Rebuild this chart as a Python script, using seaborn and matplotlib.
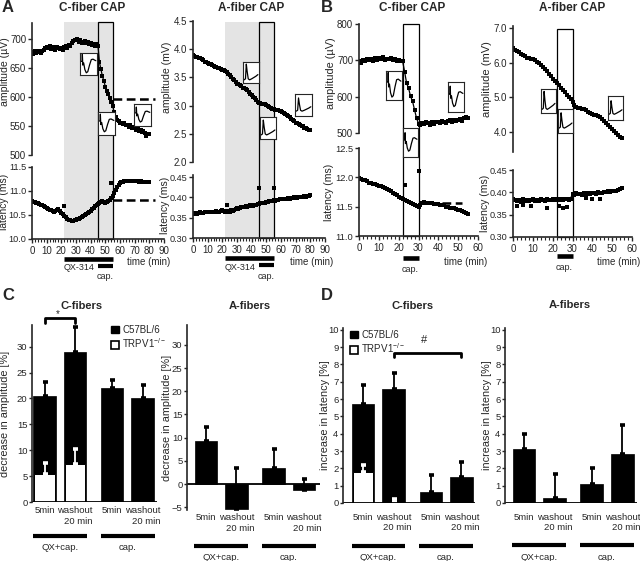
import numpy as np
import matplotlib
matplotlib.use("Agg")
import matplotlib.pyplot as plt
import matplotlib.transforms as mtransforms
from matplotlib import font_manager
from matplotlib.patches import Rectangle, Patch
from matplotlib.ticker import MultipleLocator, FormatStrFormatter
import seaborn as sns

# --- DATA: time courses (one value per minute) ---
T_A = np.arange(81)
T_B = np.arange(56)

A_C_AMP = [678, 675, 680, 677, 679, 678, 676, 680, 682, 684,
           687, 684, 688, 683, 686, 685, 682, 686, 684, 683,
           684, 681, 686, 688, 685, 690, 689, 694, 697, 699,
           698, 700, 696, 698, 694, 695, 697, 693, 695, 692,
           694, 690, 692, 689, 691, 688, 660, 648, 636, 628,
           618, 611, 606, 598, 592, 585, 574, 566, 561, 558,
           556, 555, 553, 556, 551, 552, 549, 551, 547, 548,
           546, 544, 546, 542, 543, 540, 541, 538, 533, 536, 537]
A_C_LAT = [10.80, 10.78, 10.77, 10.75, 10.74, 10.73, 10.71, 10.70, 10.68, 10.66,
           10.65, 10.63, 10.61, 10.60, 10.58, 10.57, 10.58, 10.60, 10.62, 10.59,
           10.55, 10.52, 10.48, 10.45, 10.42, 10.40, 10.39, 10.38, 10.38, 10.39,
           10.40, 10.41, 10.42, 10.44, 10.46, 10.48, 10.50, 10.52, 10.55, 10.57,
           10.59, 10.62, 10.65, 10.68, 10.71, 10.73, 10.75, 10.77, 10.79, 10.77,
           10.76, 10.77, 10.79, 10.82, 10.85, 10.90, 10.96, 11.03, 11.09, 11.13,
           11.16, 11.18, 11.19, 11.20, 11.20, 11.21, 11.20, 11.21, 11.20, 11.21,
           11.20, 11.21, 11.20, 11.19, 11.20, 11.19, 11.18, 11.19, 11.18, 11.18, 11.19]
A_C_LAT_OUT_T = [22, 54]
A_C_LAT_OUT = [10.68, 11.17]

A_A_AMP = [3.89, 3.88, 3.87, 3.86, 3.85, 3.84, 3.82, 3.80, 3.78, 3.77,
           3.75, 3.74, 3.73, 3.72, 3.70, 3.69, 3.68, 3.67, 3.66, 3.65,
           3.64, 3.63, 3.62, 3.59, 3.56, 3.54, 3.51, 3.48, 3.45, 3.42,
           3.39, 3.38, 3.36, 3.34, 3.32, 3.31, 3.29, 3.27, 3.24, 3.21,
           3.19, 3.16, 3.13, 3.10, 3.07, 3.05, 3.04, 3.03, 3.03, 3.02,
           3.01, 2.99, 2.97, 2.95, 2.94, 2.94, 2.93, 2.93, 2.92, 2.91,
           2.91, 2.89, 2.87, 2.85, 2.83, 2.81, 2.79, 2.77, 2.75, 2.72,
           2.70, 2.69, 2.67, 2.65, 2.64, 2.63, 2.61, 2.60, 2.59, 2.57, 2.56]
A_A_LAT = [0.361, 0.360, 0.362, 0.359, 0.361, 0.363, 0.361, 0.362, 0.364, 0.363,
           0.365, 0.363, 0.364, 0.365, 0.363, 0.364, 0.366, 0.364, 0.365, 0.367,
           0.369, 0.366, 0.364, 0.367, 0.363, 0.365, 0.368, 0.366, 0.370, 0.372,
           0.373, 0.371, 0.374, 0.376, 0.377, 0.376, 0.378, 0.377, 0.379, 0.380,
           0.381, 0.379, 0.382, 0.381, 0.383, 0.383, 0.385, 0.386, 0.385, 0.387,
           0.389, 0.388, 0.390, 0.391, 0.392, 0.393, 0.392, 0.394, 0.393, 0.395,
           0.395, 0.396, 0.395, 0.397, 0.396, 0.398, 0.397, 0.399, 0.398, 0.400,
           0.400, 0.399, 0.401, 0.400, 0.402, 0.401, 0.403, 0.402, 0.404, 0.403, 0.405]
A_A_LAT_OUT_T = [23, 45, 55]
A_A_LAT_OUT = [0.381, 0.422, 0.422]

B_C_AMP = [697, 694, 701, 699, 703, 700, 704, 698, 706, 702,
           706, 703, 708, 701, 705, 703, 707, 700, 704, 699,
           702, 698, 697, 669, 637, 623, 601, 587, 564, 541,
           526, 523, 528, 525, 530, 527, 522, 529, 526, 531,
           529, 527, 533, 530, 528, 532, 535, 529, 537, 533,
           535, 538, 532, 540, 543, 541]
B_C_LAT = [11.99, 11.97, 11.96, 11.95, 11.93, 11.91, 11.90, 11.89, 11.88, 11.87,
           11.86, 11.85, 11.83, 11.82, 11.80, 11.78, 11.76, 11.74, 11.72, 11.70,
           11.67, 11.65, 11.63, 11.61, 11.60, 11.58, 11.56, 11.54, 11.53, 11.51,
           11.50, 11.52, 11.56, 11.58, 11.57, 11.56, 11.57, 11.56, 11.55, 11.55,
           11.54, 11.53, 11.52, 11.52, 11.50, 11.49, 11.48, 11.47, 11.47, 11.46,
           11.45, 11.44, 11.42, 11.41, 11.39, 11.37]
B_C_LAT_OUT_T = [23, 30]
B_C_LAT_OUT = [11.87, 12.10]

B_A_AMP = [6.42, 6.38, 6.35, 6.30, 6.25, 6.22, 6.18, 6.15, 6.13, 6.12,
           6.10, 6.07, 6.03, 5.98, 5.93, 5.88, 5.82, 5.75, 5.68, 5.61,
           5.54, 5.48, 5.42, 5.35, 5.28, 5.20, 5.14, 5.07, 5.01, 4.94,
           4.86, 4.79, 4.72, 4.70, 4.69, 4.67, 4.65, 4.62, 4.58, 4.55,
           4.52, 4.50, 4.48, 4.45, 4.42, 4.38, 4.33, 4.27, 4.21, 4.15,
           4.09, 4.03, 3.97, 3.92, 3.86, 3.82]
B_A_LAT = [0.386, 0.382, 0.380, 0.383, 0.379, 0.384, 0.381, 0.383, 0.380, 0.382,
           0.384, 0.381, 0.383, 0.380, 0.384, 0.382, 0.381, 0.385, 0.383, 0.382,
           0.384, 0.382, 0.385, 0.383, 0.384, 0.382, 0.385, 0.384, 0.383, 0.386,
           0.397, 0.395, 0.398, 0.396, 0.397, 0.395, 0.398, 0.397, 0.399, 0.396,
           0.399, 0.398, 0.397, 0.400, 0.399, 0.398, 0.401, 0.400, 0.402, 0.401,
           0.403, 0.402, 0.404, 0.406, 0.407, 0.409]
B_A_LAT_OUT_T = [2, 5, 9, 17, 23, 25, 27, 37, 40, 44]
B_A_LAT_OUT = [0.370, 0.372, 0.369, 0.366, 0.370, 0.365, 0.368, 0.387, 0.385, 0.384]

# baseline (pre-treatment) reference levels shown dashed
A_C_AMP_REF, A_C_LAT_REF = 597, 10.82
B_C_LAT_REF = 11.56

# treatment windows (min)
QX_WIN = (22, 55)
CAP_WIN_A = (45, 55)
CAP_WIN_B = (22, 30)

# CAP waveform templates (normalised)
C_WAVE_T = [0, 0.06, 0.08, 0.11, 0.17, 0.25, 0.35, 0.45, 0.57, 0.69, 0.81, 0.91, 1.0]
C_WAVE_V = [0.62, 0.62, 0.95, 0.45, 0.55, 0.25, 0.1, 0.15, 0.45, 0.7, 0.72, 0.68, 0.65]
A_WAVE_T = [0, 0.1, 0.16, 0.22, 0.3, 0.4, 0.55, 0.7, 0.85, 1.0]
A_WAVE_V = [0.15, 0.2, 0.9, 0.55, 0.2, 0.15, 0.2, 0.26, 0.32, 0.4]

# --- DATA: bar summaries ---
COND_LABELS = ["5min", "washout\n20 min", "5min", "washout\n20 min"]
GROUP_LABELS = ["QX+cap.", "cap."]
POS = [0, 1, 2.22, 3.22]

C_AMP_WT = [20.5, 29.0, 22.0, 20.0]
C_AMP_WT_ERR = [2.7, 4.8, 1.6, 2.7]
C_AMP_KO = [5.5, 7.3]
C_AMP_KO_ERR = [2.0, 2.9]
A_AMP_WT = [9.3, -5.3, 3.5, -1.2]
A_AMP_WT_ERR = [3.0, 8.7, 4.0, 2.3]
C_LAT_WT = [5.7, 6.6, 0.65, 1.5]
C_LAT_WT_ERR = [1.1, 0.9, 0.95, 0.85]
C_LAT_KO = [1.8, 0.07]
C_LAT_KO_ERR = [0.4, 0.15]
A_LAT_WT = [3.1, 0.27, 1.1, 2.8]
A_LAT_WT_ERR = [0.9, 1.43, 0.9, 1.7]

# --- FIGURE ---
sns.set_style("ticks")
plt.rcParams['font.family'] = ['Liberation Sans', 'DejaVu Sans']
plt.rcParams['mathtext.default'] = 'regular'
plt.rcParams['axes.linewidth'] = 1.2

# condensed face for the bar-chart labels if it is there
_names = {f.name for f in font_manager.fontManager.ttflist}
if 'Liberation Sans Narrow' in _names:
    NARROW = dict(family=['Liberation Sans Narrow', 'DejaVu Sans'], fontsize=7.8)
else:
    NARROW = dict(family=['Liberation Sans', 'DejaVu Sans'], fontsize=6.8)

W, H = 640, 561
fig = plt.figure(figsize=(W / 100, H / 100), dpi=100)


def px_axes(x0, y0, x1, y1):
    return fig.add_axes([x0 / W, 1 - y1 / H, (x1 - x0) / W, (y1 - y0) / H])


def ftext(x, y, s, **kw):
    kw.setdefault('ha', 'center')
    kw.setdefault('va', 'center')
    fig.text(x / W, 1 - y / H, s, **kw)


def ylabel_at(ax, box, text, xc, yc, size=8):
    x0, y0, x1, y1 = box
    ax.set_ylabel(text, fontsize=size)
    ax.yaxis.set_label_coords((xc + 4.5 - x0) / (x1 - x0), (y1 - yc) / (y1 - y0))


def series(ax, t, v):
    sns.lineplot(x=t, y=v, ax=ax, color='black', linewidth=0.9, marker='s',
                 markersize=2.2, markeredgewidth=0, estimator=None, sort=False)


def outliers(ax, t, v):
    sns.scatterplot(x=t, y=v, ax=ax, color='black', marker='s', s=5, linewidth=0)


def time_axis(ax, box, xmax, ylim, yticks, yfmt, show_x):
    ax.set_facecolor('none')
    ax.set_xlim(0, xmax)
    ax.set_ylim(*ylim)
    ax.set_yticks(yticks)
    ax.yaxis.set_major_formatter(FormatStrFormatter(yfmt))
    ax.tick_params(axis='y', labelsize=7, length=3, width=1, pad=1.2)
    for s in ['top', 'right']:
        ax.spines[s].set_visible(False)
    if show_x:
        ax.set_xticks(np.arange(0, xmax + 1, 10))
        ax.xaxis.set_minor_locator(MultipleLocator(2))
        ax.tick_params(axis='x', which='major', labelsize=7, length=3, width=1, pad=2)
        ax.tick_params(axis='x', which='minor', length=2, width=0.8)
    else:
        ax.spines['bottom'].set_visible(False)
        ax.set_xticks([])
    ax.set_xlabel('')


def treatment_bg(x0, x1, xmax, box_top, box_bottom, shade, box):
    bg = px_axes(x0, 0, x1, 290)
    bg.set_xlim(0, xmax)
    bg.set_ylim(290, 0)
    bg.axis('off')
    if shade is not None:
        bg.add_patch(Rectangle((shade[0], box_top), shade[1] - shade[0], box_bottom - box_top,
                               facecolor='#e4e4e4', edgecolor='none'))
    bg.add_patch(Rectangle((box[0], box_top), box[1] - box[0], box_bottom - box_top,
                           fill=False, edgecolor='black', lw=0.9))
    return bg


def inset(box, wt, wv, scale=1.0):
    ax = px_axes(*box)
    ax.set_facecolor('white')
    v = 0.5 + (np.array(wv) - 0.5) * scale
    ax.plot(wt, v, color='black', lw=0.9)
    ax.set_xlim(-0.08, 1.08)
    ax.set_ylim(0, 1)
    ax.set_xticks([])
    ax.set_yticks([])
    for s in ax.spines.values():
        s.set_linewidth(0.8)
        s.set_visible(True)


# ===== Panel A =====
# left: C-fiber
bg = treatment_bg(32, 164, 90, 22, 239, QX_WIN, CAP_WIN_A)
bg.plot(QX_WIN, [259, 259], color='black', lw=3.3, solid_capstyle='butt')
bg.plot(CAP_WIN_A, [265.5, 265.5], color='black', lw=3.0, solid_capstyle='butt')
bg.text(32, 267, "QX-314", ha='center', va='center', fontsize=6.5)
bg.text(50, 276.5, "cap.", ha='center', va='center', fontsize=6.5)

box = (32, 23, 164, 155)
ax = px_axes(*box)
series(ax, T_A, A_C_AMP)
ax.plot([55.5, 84], [A_C_AMP_REF] * 2, color='black', lw=1.8, ls=(0, (3.5, 1.8)), clip_on=False)
time_axis(ax, box, 90, (500, 728), [500, 550, 600, 650, 700], '%d', False)
ylabel_at(ax, box, "amplitude (µV)", 5.5, 72, size=7.6)

box = (32, 167, 164, 239)
ax = px_axes(*box)
series(ax, T_A, A_C_LAT)
outliers(ax, A_C_LAT_OUT_T, A_C_LAT_OUT)
ax.plot([55.5, 84], [A_C_LAT_REF] * 2, color='black', lw=1.8, ls=(0, (3.5, 1.8)), clip_on=False)
time_axis(ax, box, 90, (10.0, 11.5), [10.0, 10.5, 11.0, 11.5], '%.1f', True)
ax.tick_params(axis='y', labelsize=6.6, pad=1)
ylabel_at(ax, box, "latency (ms)", 5, 202, size=7.4)
ftext(149, 262, "time (min)", fontsize=7)

# right: A-fiber
bg = treatment_bg(193, 325, 90, 22, 238, QX_WIN, CAP_WIN_A)
bg.plot(QX_WIN, [258, 258], color='black', lw=3.3, solid_capstyle='butt')
bg.plot(CAP_WIN_A, [265, 265], color='black', lw=3.0, solid_capstyle='butt')
bg.text(32, 267, "QX-314", ha='center', va='center', fontsize=6.5)
bg.text(50, 276.5, "cap.", ha='center', va='center', fontsize=6.5)

box = (193, 21, 325, 162)
ax = px_axes(*box)
series(ax, T_A, A_A_AMP)
time_axis(ax, box, 90, (2.0, 4.5), [2.0, 2.5, 3.0, 3.5, 4.0, 4.5], '%.1f', False)
ylabel_at(ax, box, "amplitude (mV)", 167, 77, size=7.6)

box = (193, 175, 325, 238)
ax = px_axes(*box)
series(ax, T_A, A_A_LAT)
outliers(ax, A_A_LAT_OUT_T, A_A_LAT_OUT)
time_axis(ax, box, 90, (0.30, 0.455), [0.30, 0.35, 0.40, 0.45], '%.2f', True)
ax.tick_params(axis='y', labelsize=6.6)
ylabel_at(ax, box, "latency (ms)", 166, 205, size=7.6)
ftext(312, 262, "time (min)", fontsize=7)

# ===== Panel B =====
bg = treatment_bg(359, 478, 60, 24, 236, None, CAP_WIN_B)
bg.plot(CAP_WIN_B, [258, 258], color='black', lw=3.3, solid_capstyle='butt')
bg.text(26, 269, "cap.", ha='center', va='center', fontsize=6.5)

box = (359, 24, 478, 133)
ax = px_axes(*box)
series(ax, T_B, B_C_AMP)
time_axis(ax, box, 60, (500, 800), [500, 600, 700, 800], '%d', False)
ylabel_at(ax, box, "amplitude (µV)", 332, 73, size=7.8)

box = (359, 148, 478, 236)
ax = px_axes(*box)
series(ax, T_B, B_C_LAT)
outliers(ax, B_C_LAT_OUT_T, B_C_LAT_OUT)
ax.plot([42, 52], [B_C_LAT_REF] * 2, color='black', lw=1.8, ls=(0, (3.5, 1.8)))
time_axis(ax, box, 60, (11.0, 12.5), [11.0, 11.5, 12.0, 12.5], '%.1f', True)
ax.tick_params(axis='y', labelsize=6.7)
ylabel_at(ax, box, "latency (ms)", 330, 192, size=7.6)
ftext(466, 262, "time (min)", fontsize=7)

bg = treatment_bg(513, 632, 60, 29, 237, None, CAP_WIN_B)
bg.plot(CAP_WIN_B, [256, 256], color='black', lw=3.3, solid_capstyle='butt')
bg.text(26, 267, "cap.", ha='center', va='center', fontsize=6.5)

box = (513, 26, 632, 152)
ax = px_axes(*box)
series(ax, T_B, B_A_AMP)
time_axis(ax, box, 60, (3.42, 7.06), [4.0, 5.0, 6.0, 7.0], '%.1f', False)
ylabel_at(ax, box, "amplitude (mV)", 487, 79)

box = (513, 170, 632, 237)
ax = px_axes(*box)
series(ax, T_B, B_A_LAT)
outliers(ax, B_A_LAT_OUT_T, B_A_LAT_OUT)
time_axis(ax, box, 60, (0.30, 0.45), [0.30, 0.35, 0.40, 0.45], '%.2f', True)
ax.tick_params(axis='y', labelsize=6.6)
ylabel_at(ax, box, "latency (ms)", 486, 203, size=7.6)
ftext(619, 262, "time (min)", fontsize=7)

# CAP waveform insets
inset((80, 53, 97, 75), C_WAVE_T, C_WAVE_V, 1.0)
inset((98, 112, 115, 135), C_WAVE_T, C_WAVE_V, 0.9)
inset((134, 104, 151, 126), C_WAVE_T, C_WAVE_V, 0.8)
inset((243, 62, 259, 83), A_WAVE_T, A_WAVE_V, 1.0)
inset((260, 117, 276, 139), A_WAVE_T, A_WAVE_V, 0.9)
inset((295, 94, 312, 116), A_WAVE_T, A_WAVE_V, 0.8)
inset((386, 71, 402, 100), C_WAVE_T, C_WAVE_V, 1.0)
inset((403, 128, 418, 157), C_WAVE_T, C_WAVE_V, 0.75)
inset((448, 82, 464, 112), C_WAVE_T, C_WAVE_V, 0.8)
inset((541, 89, 556, 113), A_WAVE_T, A_WAVE_V, 1.0)
inset((558, 109, 573, 133), A_WAVE_T, A_WAVE_V, 0.85)
inset((608, 96, 623, 120), A_WAVE_T, A_WAVE_V, 0.75)


# ===== Panels C and D: bar summaries =====
def bar_panel(box, xlim, ylim, yticks, wt, wt_err, ko, ko_err, ylabel, ylab_x,
              tick_pad, group_y, group_lab_y):
    ax = px_axes(*box)
    ax.set_facecolor('none')
    sns.barplot(x=POS, y=wt, native_scale=True, color='black', width=0.74, saturation=1,
                errorbar=None, edgecolor='black', linewidth=0.5, ax=ax)
    ax.errorbar(POS, wt, yerr=[np.zeros(len(wt)), wt_err], fmt='none', ecolor='black',
                elinewidth=1.3, capsize=1.8, capthick=2.6)
    if ko is not None:
        sns.barplot(x=POS[:2], y=ko, native_scale=True, color='white', width=0.66,
                    saturation=1, errorbar=None, edgecolor='black', linewidth=0.7, ax=ax)
        ax.errorbar(POS[:2], ko, yerr=[np.zeros(len(ko)), ko_err], fmt='none', ecolor='white',
                    elinewidth=1.3, capsize=1.8, capthick=2.6)
    ax.axhline(0, color='black', lw=1.3)
    ax.set_xlim(*xlim)
    ax.set_ylim(*ylim)
    ax.set_yticks(yticks)
    for s in ['top', 'right', 'bottom']:
        ax.spines[s].set_visible(False)
    ax.set_xticks(POS)
    ax.set_xticklabels(COND_LABELS, **NARROW)
    for lbl in ax.get_xticklabels():
        lbl.set_multialignment('right')
    ax.tick_params(axis='x', length=0, pad=tick_pad)
    ax.tick_params(axis='y', labelsize=6.8, length=2.2, width=1, pad=1)
    ax.set_xlabel('')
    ylabel_at(ax, box, ylabel, ylab_x, (box[1] + box[3]) / 2, size=7.8)
    blend = mtransforms.blended_transform_factory(ax.transData, fig.transFigure)
    gy = 1 - group_y / H
    for (a, b), lab in zip([(0, 1), (2, 3)], GROUP_LABELS):
        ax.plot([POS[a] - 0.38, POS[b] + 0.39], [gy, gy], color='black', lw=3,
                solid_capstyle='butt', transform=blend, clip_on=False)
        ax.text((POS[a] + POS[b]) / 2, 1 - group_lab_y / H, lab, transform=blend,
                ha='center', va='center', **NARROW)
    return ax


def legend_at(ax, x, y):
    handles = [Patch(facecolor='black', edgecolor='black'),
               Patch(facecolor='white', edgecolor='black', linewidth=1.2)]
    ax.legend(handles, ["C57BL/6", r"TRPV1$^{-/-}$"], loc='upper left',
              bbox_to_anchor=(x / W, 1 - y / H), bbox_transform=fig.transFigure,
              frameon=False, fontsize=7, handlelength=0.8, handleheight=0.8,
              handletextpad=0.35, labelspacing=0.15, borderpad=0, borderaxespad=0)


ax = bar_panel((32, 325, 157, 502), (-0.41, 3.69), (0, 34.2), [0, 5, 10, 15, 20, 25, 30],
               C_AMP_WT, C_AMP_WT_ERR, C_AMP_KO, C_AMP_KO_ERR,
               "decrease in amplitude [%]", 6, 3, 536, 547)
legend_at(ax, 111, 325)
ax.plot([POS[0], POS[0], POS[1], POS[1]], [34.6, 35.5, 35.5, 34.6], color='black', lw=2,
        clip_on=False)
ax.text((POS[0] + POS[1]) / 2 - 0.05, 36.3, "*", ha='center', va='center', fontsize=7)

bar_panel((187, 325, 320, 510), (-0.62, 3.74), (-5.6, 34.3), [-5, 0, 5, 10, 15, 20, 25, 30],
          A_AMP_WT, A_AMP_WT_ERR, None, None,
          "decrease in amplitude [%]", 167, 2.5, 546, 557)

ax = bar_panel((343, 328, 475, 503), (-0.66, 3.67), (0, 10.1), list(range(11)),
               C_LAT_WT, C_LAT_WT_ERR, C_LAT_KO, C_LAT_KO_ERR,
               "increase in latency [%]", 326, 7, 546, 557)
legend_at(ax, 350, 330)
ax.plot([POS[1], POS[1], POS[3], POS[3]], [8.42, 8.67, 8.67, 8.42], color='black', lw=2)
ax.text((POS[1] + POS[3]) / 2 - 0.1, 9.4, "#", ha='center', va='center', fontsize=8)

bar_panel((505, 328, 637, 503), (-0.62, 3.7), (0, 10.1), list(range(11)),
          A_LAT_WT, A_LAT_WT_ERR, None, None,
          "increase in latency [%]", 488, 7, 545, 557)

# titles and panel letters
for x, y, s in [(92, 8, "C-fiber CAP"), (251, 8, "A-fiber CAP"),
                (412, 8, "C-fiber CAP"), (572, 8, "A-fiber CAP")]:
    ftext(x, y, s, fontsize=8.5, fontweight='bold')
for x, y, s in [(82, 306, "C-fibers"), (250, 306, "A-fibers"),
                (413, 306, "C-fibers"), (570, 305, "A-fibers")]:
    ftext(x, y, s, fontsize=8, fontweight='bold')
for x, y, s in [(8, 7, "A"), (327, 7, "B"), (8, 295, "C"), (327, 295, "D")]:
    ftext(x, y, s, fontsize=12, fontweight='bold')

fig.savefig("out.png", dpi=100)
